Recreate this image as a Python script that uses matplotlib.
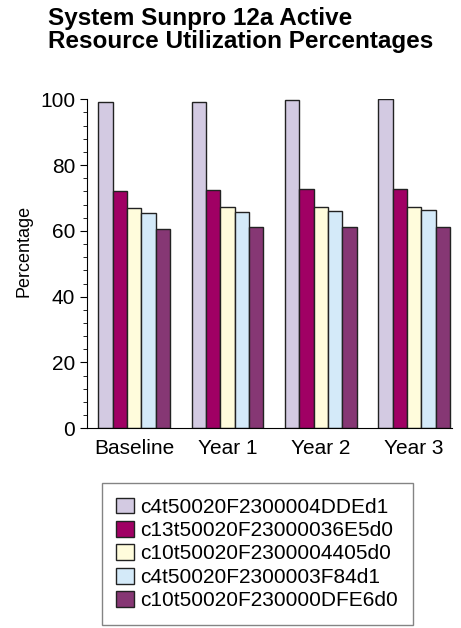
import matplotlib
matplotlib.use("Agg")
import matplotlib.pyplot as plt
import numpy as np
from matplotlib.ticker import MultipleLocator

plt.rcParams['font.family'] = ['Liberation Sans', 'DejaVu Sans']

periods = ['Baseline', 'Year 1', 'Year 2', 'Year 3']
devices = ['c4t50020F2300004DDEd1', 'c13t50020F23000036E5d0',
           'c10t50020F2300004405d0', 'c4t50020F2300003F84d1',
           'c10t50020F230000DFE6d0']
util_c4_4dde = [99.3, 99.3, 99.7, 100.0]
util_c13_36e5 = [72.1, 72.3, 72.6, 72.6]
util_c10_4405 = [66.8, 67.1, 67.1, 67.3]
util_c4_3f84 = [65.5, 65.8, 66.1, 66.2]
util_c10_dfe6 = [60.7, 61.1, 61.1, 61.1]
colors = ['#D3CAE2', '#A00064', '#FFFCDC', '#D4EAF9', '#863774']

series = [util_c4_4dde, util_c13_36e5, util_c10_4405, util_c4_3f84, util_c10_dfe6]

fig = plt.figure(figsize=(4.61, 6.28), dpi=100)
ax = fig.add_axes([0.1887, 0.318, 0.792, 0.524])

x = np.arange(len(periods))
w = 0.154
for i, (vals, name, c) in enumerate(zip(series, devices, colors)):
    ax.bar(x + (i - 2) * w, vals, w, color=c, edgecolor='#222222',
           linewidth=1.0, label=name)

ax.set_xlim(-0.506, 3.406)
ax.set_ylim(0, 100)
ax.yaxis.set_major_locator(MultipleLocator(20))
ax.yaxis.set_minor_locator(MultipleLocator(4))
ax.set_xticks(x)
ax.set_xticklabels(periods)
ax.tick_params(axis='x', length=0, labelsize=15, pad=8)
ax.tick_params(axis='y', which='major', length=5, labelsize=15, pad=3.5)
ax.tick_params(axis='y', which='minor', length=3)
ax.spines['top'].set_visible(False)
ax.spines['right'].set_visible(False)
ax.set_ylabel('Percentage', fontsize=13)
ax.yaxis.set_label_coords(-0.15, 0.538)

fig.text(0.104, 0.989, 'System Sunpro 12a Active\nResource Utilization Percentages',
         ha='left', va='top', fontsize=17.5, fontweight='bold', linespacing=1.0)

leg = fig.legend(loc='upper left', bbox_to_anchor=(0.221, 0.231), fontsize=15,
                 handlelength=0.85, handleheight=0.8, handletextpad=0.3,
                 labelspacing=0.2, borderpad=0.7, borderaxespad=0,
                 fancybox=False, edgecolor='#666666')
leg.get_frame().set_linewidth(1.0)

fig.savefig('out.png', dpi=100)
